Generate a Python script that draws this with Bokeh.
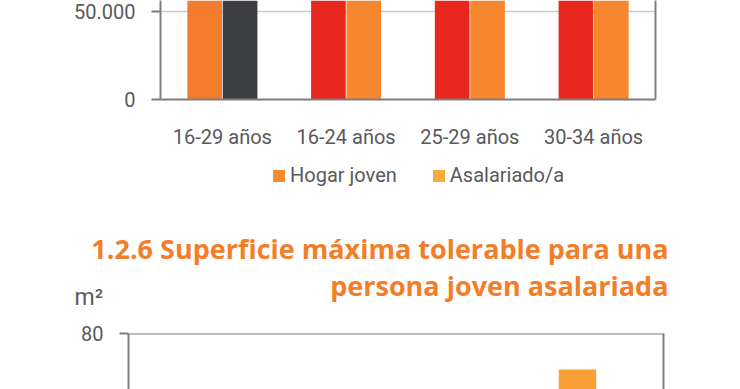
from bokeh.plotting import figure
from bokeh.models import (FactorRange, Range1d, FixedTicker, Legend, LegendItem,
                          Label, LinearAxis, ColumnDataSource, Span)
from bokeh.transform import dodge
from bokeh.layouts import column
from bokeh.embed import file_html
from bokeh.resources import INLINE

NAN = float("nan")

# ---------------- data ----------------
categories = ["16-29 años", "16-24 años", "25-29 años", "30-34 años"]
series_names = ["Hogar joven", "Asalariado/a"]
hogar_joven = [78000, 72000, 84000, 96000]      # tops are cut off in the picture
asalariado = [62000, 58000, 70000, 82000]       # tops are cut off in the picture
y_ticks_top = [0, 50000]

superficie_a = [52, 56, 58, 68.5]               # m2, only the last one is visible
superficie_b = [45, 50, 55, 58]
y_ticks_bottom = [0, 20, 40, 60, 80]
y_unit = "m²"
title_lines = ["1.2.6 Superficie máxima tolerable para una",
               "persona joven asalariada"]

# ---------------- styles ----------------
hogar_colors = ["#F47A2C", "#E8281F", "#E8281F", "#E8281F"]
asal_colors = ["#3C3D41", "#F7872E", "#F7872E", "#F7872E"]
legend_colors = ["#F58A30", "#FBA93B"]
sup_a_colors = ["#F99F34"] * 4
sup_b_colors = ["#F7872E"] * 4
FONT = "Roboto"
TITLE_FONT = "'Open Sans'"
TXT = "#58595b"
AXIS = "#7d7d7d"
ORANGE = "#F47D27"
W = 740


def fmt(t):
    return f"{t:,}".replace(",", ".")


def style_left_axis(ax, ticks):
    ax.ticker = FixedTicker(ticks=ticks)
    ax.major_label_overrides = {t: fmt(t) for t in ticks}
    ax.major_tick_out = 9
    ax.major_tick_in = 0
    ax.minor_tick_line_color = None
    ax.major_tick_line_color = AXIS
    ax.major_tick_line_width = 2
    ax.axis_line_color = AXIS
    ax.axis_line_width = 2
    ax.major_label_standoff = 16
    ax.major_label_text_font = FONT
    ax.major_label_text_font_size = "20px"
    ax.major_label_text_color = TXT


def border_axis():
    return LinearAxis(ticker=FixedTicker(ticks=[]), major_tick_line_color=None,
                      minor_tick_line_color=None, axis_line_color=AXIS,
                      axis_line_width=2)


def blank(p):
    p.background_fill_color = "white"
    p.border_fill_color = "white"
    p.outline_line_color = None


# ---------------- top chart ----------------
p1 = figure(width=W, height=158, x_range=FactorRange(*categories),
            y_range=Range1d(0, 56000), output_backend="svg", toolbar_location=None,
            min_border_left=160, min_border_right=85, min_border_top=0,
            min_border_bottom=59, frame_align=False)
blank(p1)
src1 = ColumnDataSource(dict(cat=categories, hogar=hogar_joven, asal=asalariado,
                             c1=hogar_colors, c2=asal_colors))
p1.vbar(x=dodge("cat", -0.143, range=p1.x_range), top="hogar", width=0.28,
        fill_color="c1", line_color=None, source=src1)
p1.vbar(x=dodge("cat", 0.143, range=p1.x_range), top="asal", width=0.28,
        fill_color="c2", line_color=None, source=src1)

style_left_axis(p1.yaxis[0], y_ticks_top)
xa = p1.xaxis[0]
xa.major_tick_line_color = None
xa.minor_tick_line_color = None
xa.axis_line_color = AXIS
xa.axis_line_width = 2
xa.major_label_standoff = 19
xa.major_label_text_font = FONT
xa.major_label_text_font_size = "20px"
xa.major_label_text_color = TXT
p1.xgrid.grid_line_color = None
p1.ygrid.ticker = FixedTicker(ticks=y_ticks_top)
p1.ygrid.grid_line_color = "#c9c9c9"
p1.ygrid.grid_line_width = 1.5
p1.add_layout(border_axis(), "right")

# ---------------- legend + titles ----------------
pt = figure(width=W, height=162, x_range=Range1d(0, 1), y_range=Range1d(0, 1),
            output_backend="svg", toolbar_location=None, min_border=0,
            min_border_left=0, min_border_right=0, min_border_top=0,
            min_border_bottom=0, x_axis_location=None, y_axis_location=None,
            frame_align=False)
blank(pt)
pt.grid.visible = False
# legend proxies: one undrawable (NaN) entry each, only used for the legend swatch
proxy1 = pt.vbar(x=[NAN], top=[NAN], width=0.1, fill_color=legend_colors[0], line_color=None)
proxy2 = pt.vbar(x=[NAN], top=[NAN], width=0.1, fill_color=legend_colors[1], line_color=None)
legend = Legend(items=[LegendItem(label=series_names[0], renderers=[proxy1]),
                       LegendItem(label=series_names[1], renderers=[proxy2])],
                orientation="horizontal", location=(271, 133), padding=0, margin=0,
                border_line_color=None, background_fill_alpha=0,
                glyph_width=15, glyph_height=15, label_standoff=4, spacing=34,
                label_text_font=FONT, label_text_font_size="20px",
                label_text_color=TXT)
pt.add_layout(legend)

for txt, yy in zip(title_lines, [72, 35]):
    pt.add_layout(Label(x=668, y=yy, x_units="screen", y_units="screen", text=txt,
                        text_align="right", text_baseline="alphabetic",
                        text_font=TITLE_FONT, text_font_style="bold",
                        text_font_size="27px", text_color=ORANGE))
pt.add_layout(Label(x=74, y=23, x_units="screen", y_units="screen", text=y_unit,
                    text_align="left", text_baseline="alphabetic",
                    text_font=FONT, text_font_size="23px", text_color=TXT))

# ---------------- bottom chart ----------------
p2 = figure(width=W, height=69, x_range=FactorRange(*categories),
            y_range=Range1d(62.1, 80), x_axis_location=None,
            output_backend="svg", toolbar_location=None,
            min_border_left=128, min_border_right=77, min_border_top=13,
            min_border_bottom=0, frame_align=False)
blank(p2)
src2 = ColumnDataSource(dict(cat=categories, a=superficie_a, b=superficie_b,
                             c1=sup_a_colors, c2=sup_b_colors))
p2.vbar(x=dodge("cat", -0.143, range=p2.x_range), top="a", width=0.28,
        fill_color="c1", line_color=None, source=src2)
p2.vbar(x=dodge("cat", 0.143, range=p2.x_range), top="b", width=0.28,
        fill_color="c2", line_color=None, source=src2)
style_left_axis(p2.yaxis[0], y_ticks_bottom)
p2.xgrid.grid_line_color = None
p2.ygrid.grid_line_color = None
p2.add_layout(Span(location=p2.y_range.end, dimension="width",
                   line_color=AXIS, line_width=2))
p2.add_layout(border_axis(), "right")

layout = column(p1, pt, p2, spacing=0)
open("out.html", "w").write(file_html(layout, INLINE))
